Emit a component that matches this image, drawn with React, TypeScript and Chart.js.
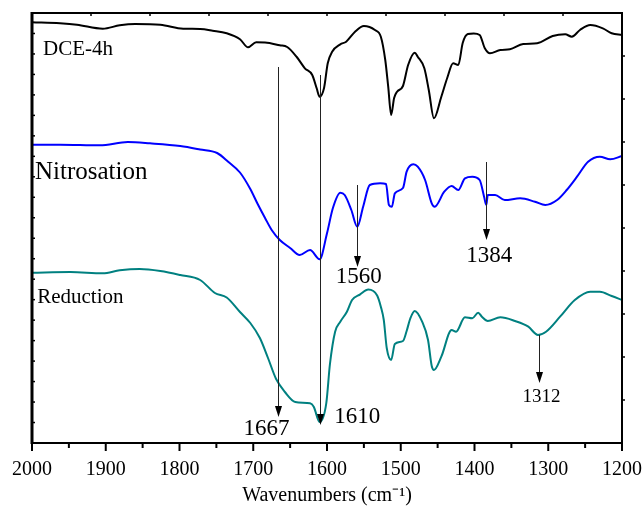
import React, { useEffect, useRef } from 'react';
import { Chart, registerables } from 'chart.js';

Chart.register(...registerables);

const FONT = '"Liberation Serif", "Times New Roman", serif';

// ---- Data (wavenumber in cm^-1, transmittance in arbitrary offset units) ----
const dceWavenumbers = [2000, 1962, 1939, 1904, 1881, 1860, 1826, 1795, 1772, 1755, 1736, 1718, 1707, 1696, 1684, 1664, 1654, 1641, 1630, 1620, 1614, 1610, 1604, 1599, 1593, 1582, 1574, 1562, 1550, 1535, 1527, 1521, 1517, 1513, 1509, 1505, 1497, 1490, 1481, 1477, 1468, 1462, 1455, 1445, 1437, 1429, 1422, 1416, 1409, 1401, 1393, 1386, 1379, 1365, 1352, 1334, 1315, 1294, 1277, 1268, 1257, 1243, 1226, 1214, 1200];
const dceValues = [420.7, 419.7, 418.3, 414.3, 417.7, 419, 418.3, 414.3, 414, 412.3, 409.7, 403.7, 395.7, 400.7, 400.5, 397.7, 396, 386, 374.7, 368, 354.7, 346.3, 355, 379.7, 391.3, 398.7, 401.3, 411.3, 417, 413, 406.3, 383, 356.3, 328, 345, 351.3, 357, 378, 390.3, 386.3, 374.7, 353, 324.7, 346.3, 365, 379.7, 378, 400, 409, 409.5, 408, 394.7, 389.7, 393, 393.7, 399, 399.7, 407, 408.7, 406.3, 413, 418, 414.7, 409.7, 408];

const nitWavenumbers = [2000, 1962, 1908, 1870, 1840, 1799, 1772, 1749, 1734, 1718, 1704, 1694, 1684, 1675, 1664, 1650, 1637, 1623, 1610, 1600, 1592, 1582, 1576, 1567, 1559, 1551, 1542, 1528, 1520, 1516, 1512, 1508, 1497, 1492, 1483, 1477, 1467, 1458, 1454, 1441, 1431, 1422, 1413, 1403, 1393, 1387, 1384, 1382, 1372, 1359, 1338, 1318, 1304, 1288, 1275, 1261, 1246, 1230, 1216, 1200];
const nitValues = [298.3, 298.3, 297.7, 301, 299.7, 297, 293.5, 290, 281.3, 270.5, 254, 239, 225, 213, 203, 195, 188, 193, 183.7, 209.7, 235, 250.3, 248, 233, 216.3, 236.3, 258, 259.7, 259, 238, 236.3, 249.7, 255, 271.3, 278.7, 276.3, 263, 239.7, 236.3, 251.3, 257, 253, 264.7, 266.3, 263, 246.3, 238, 248, 248, 243, 244.7, 241.3, 238, 243, 253, 266.3, 281.3, 286.3, 283.7, 287];

const redWavenumbers = [2000, 1948, 1904, 1881, 1854, 1826, 1799, 1772, 1752, 1736, 1718, 1704, 1691, 1680, 1669, 1657, 1643, 1623, 1618, 1610, 1601, 1596, 1589, 1582, 1573, 1566, 1555, 1544, 1532, 1527, 1523, 1519, 1513, 1508, 1497, 1492, 1487, 1481, 1471, 1463, 1458, 1455, 1445, 1431, 1425, 1413, 1403, 1395, 1390, 1382, 1365, 1345, 1327, 1314, 1303, 1284, 1264, 1243, 1230, 1214, 1200];
const redValues = [170.3, 171, 169.7, 172.7, 174, 172, 168, 163, 150, 145.5, 131, 120, 105, 85, 64, 51, 41, 39.7, 36.3, 21, 39.7, 79, 111.3, 121.3, 131.3, 143, 148.7, 153.5, 147.5, 136.3, 123, 95, 83, 99, 102, 112, 124.7, 132, 121.3, 103, 77, 73, 86.3, 113, 111.3, 125.7, 124.7, 130.3, 126.3, 122, 125.7, 122, 116.3, 108, 111.3, 126.3, 143, 151.3, 151.3, 147, 143];

const seriesNames = ['DCE-4h', 'Nitrosation', 'Reduction'];
const seriesColors = ['#000000', '#0000ff', '#008080'];

const xTickValues = [2000, 1900, 1800, 1700, 1600, 1500, 1400, 1300, 1200];
const xMinorTickValues = [1950, 1850, 1750, 1650, 1550, 1450, 1350, 1250];

// peak annotations: wavenumber, arrow start value, arrow tip value, label text
const peakWavenumbers = [1667, 1610, 1560, 1384, 1312];
const peakLabels = ['1667', '1610', '1560', '1384', '1312'];
const peakArrowTop = [376, 368, 258, 281, 108];
const peakArrowTip = [26, 18, 176, 203, 60];
const peakLabelX = [1682, 1559, 1557, 1380, 1309];
const peakLabelY = [14, 26, 166, 187, 46];
const peakLabelSize = [23, 23, 23, 23, 19];

// series name labels
const nameLabelX = [1985, 1996, 1993];
const nameLabelY = [388, 264, 140];
const nameLabelSize = [21, 25, 21];

const toPoints = (xs: number[], ys: number[]) => xs.map((x, i) => ({ x, y: ys[i] }));

const decorPlugin = {
  id: 'decor',
  afterDraw(chart: any) {
    const { ctx, chartArea: a, scales } = chart;
    const xs = scales.x;
    const ys = scales.y;
    const seg = (x1: number, y1: number, x2: number, y2: number) => {
      ctx.beginPath();
      ctx.moveTo(x1, y1);
      ctx.lineTo(x2, y2);
      ctx.stroke();
    };
    ctx.save();
    ctx.strokeStyle = '#000';
    ctx.fillStyle = '#000';

    // frame
    ctx.lineWidth = 2;
    ctx.strokeRect(a.left, a.top, a.right - a.left, a.bottom - a.top);
    ctx.lineWidth = 3;
    seg(a.left, a.top - 1, a.left, a.bottom + 1);

    // bottom ticks
    ctx.lineWidth = 2;
    xTickValues.forEach((v) => {
      const px = xs.getPixelForValue(v);
      seg(px, a.bottom, px, a.bottom + 8);
    });
    xMinorTickValues.forEach((v) => {
      const px = xs.getPixelForValue(v);
      seg(px, a.bottom, px, a.bottom + 5);
    });
    // top ticks (inward)
    ctx.lineWidth = 1.5;
    for (let i = 1; i < 10; i++) {
      const px = a.left + ((a.right - a.left) * i) / 10;
      seg(px, a.top, px, a.top + 3);
    }
    // left ticks (inward)
    for (let i = 1; i < 21; i++) {
      const py = a.top + ((a.bottom - a.top) * i) / 21;
      seg(a.left, py, a.left + 3, py);
    }
    // right ticks (outward)
    for (let i = 1; i < 10; i++) {
      const py = a.top + ((a.bottom - a.top) * i) / 10;
      seg(a.right, py, a.right + 3, py);
    }

    // peak arrows
    ctx.strokeStyle = '#222';
    ctx.lineWidth = 1;
    peakWavenumbers.forEach((w, i) => {
      const px = Math.round(xs.getPixelForValue(w)) + 0.5;
      const y1 = ys.getPixelForValue(peakArrowTop[i]);
      const y2 = ys.getPixelForValue(peakArrowTip[i]);
      seg(px, y1, px, y2 - 9);
      ctx.beginPath();
      ctx.moveTo(px - 3.5, y2 - 11);
      ctx.lineTo(px + 3.5, y2 - 11);
      ctx.lineTo(px, y2);
      ctx.closePath();
      ctx.fill();
      ctx.font = `${peakLabelSize[i]}px ${FONT}`;
      ctx.textAlign = 'center';
      ctx.textBaseline = 'middle';
      ctx.fillText(peakLabels[i], xs.getPixelForValue(peakLabelX[i]), ys.getPixelForValue(peakLabelY[i]));
    });

    // series names
    ctx.textAlign = 'left';
    ctx.textBaseline = 'alphabetic';
    seriesNames.forEach((n, i) => {
      ctx.font = `${nameLabelSize[i]}px ${FONT}`;
      ctx.fillText(n, xs.getPixelForValue(nameLabelX[i]), ys.getPixelForValue(nameLabelY[i]));
    });
    ctx.restore();
  },
};

export default function App() {
  const ref = useRef<HTMLCanvasElement | null>(null);
  useEffect(() => {
    if (!ref.current) return;
    const chart = new Chart(ref.current, {
      type: 'line',
      data: {
        datasets: [
          { label: seriesNames[0], data: toPoints(dceWavenumbers, dceValues), borderColor: seriesColors[0] },
          { label: seriesNames[1], data: toPoints(nitWavenumbers, nitValues), borderColor: seriesColors[1] },
          { label: seriesNames[2], data: toPoints(redWavenumbers, redValues), borderColor: seriesColors[2] },
        ].map((d) => ({
          ...d,
          borderWidth: 2,
          pointRadius: 0,
          fill: false,
          cubicInterpolationMode: 'monotone' as const,
        })),
      },
      options: {
        animation: false,
        responsive: false,
        events: [],
        layout: { padding: { left: 32, right: 21, top: 13, bottom: 0 } },
        plugins: { legend: { display: false }, tooltip: { enabled: false } },
        scales: {
          x: {
            type: 'linear',
            reverse: true,
            min: 1200,
            max: 2000,
            grid: { display: false, drawTicks: false },
            border: { display: false },
            afterBuildTicks: (scale: any) => {
              scale.ticks = xTickValues.map((v) => ({ value: v }));
            },
            afterFit: (scale: any) => {
              scale.height = 68;
              scale.paddingLeft = 0;
              scale.paddingRight = 0;
            },
            ticks: {
              padding: 15,
              maxRotation: 0,
              autoSkip: false,
              color: '#000',
              font: { family: FONT, size: 20 },
              callback: (v: any) => String(v),
            },
            title: {
              display: true,
              text: 'Wavenumbers (cm\u207B\u00B9)',
              color: '#000',
              font: { family: FONT, size: 20 },
              padding: { top: 0, bottom: 3 },
            },
          },
          y: { display: false, min: 0, max: 430 },
        },
      },
      plugins: [decorPlugin],
    });
    return () => chart.destroy();
  }, []);
  return (
    <div style={{ position: 'absolute', left: 0, top: 0, width: 643, height: 511, background: '#fff' }}>
      <canvas ref={ref} width={643} height={511} style={{ display: 'block' }} />
    </div>
  );
}
